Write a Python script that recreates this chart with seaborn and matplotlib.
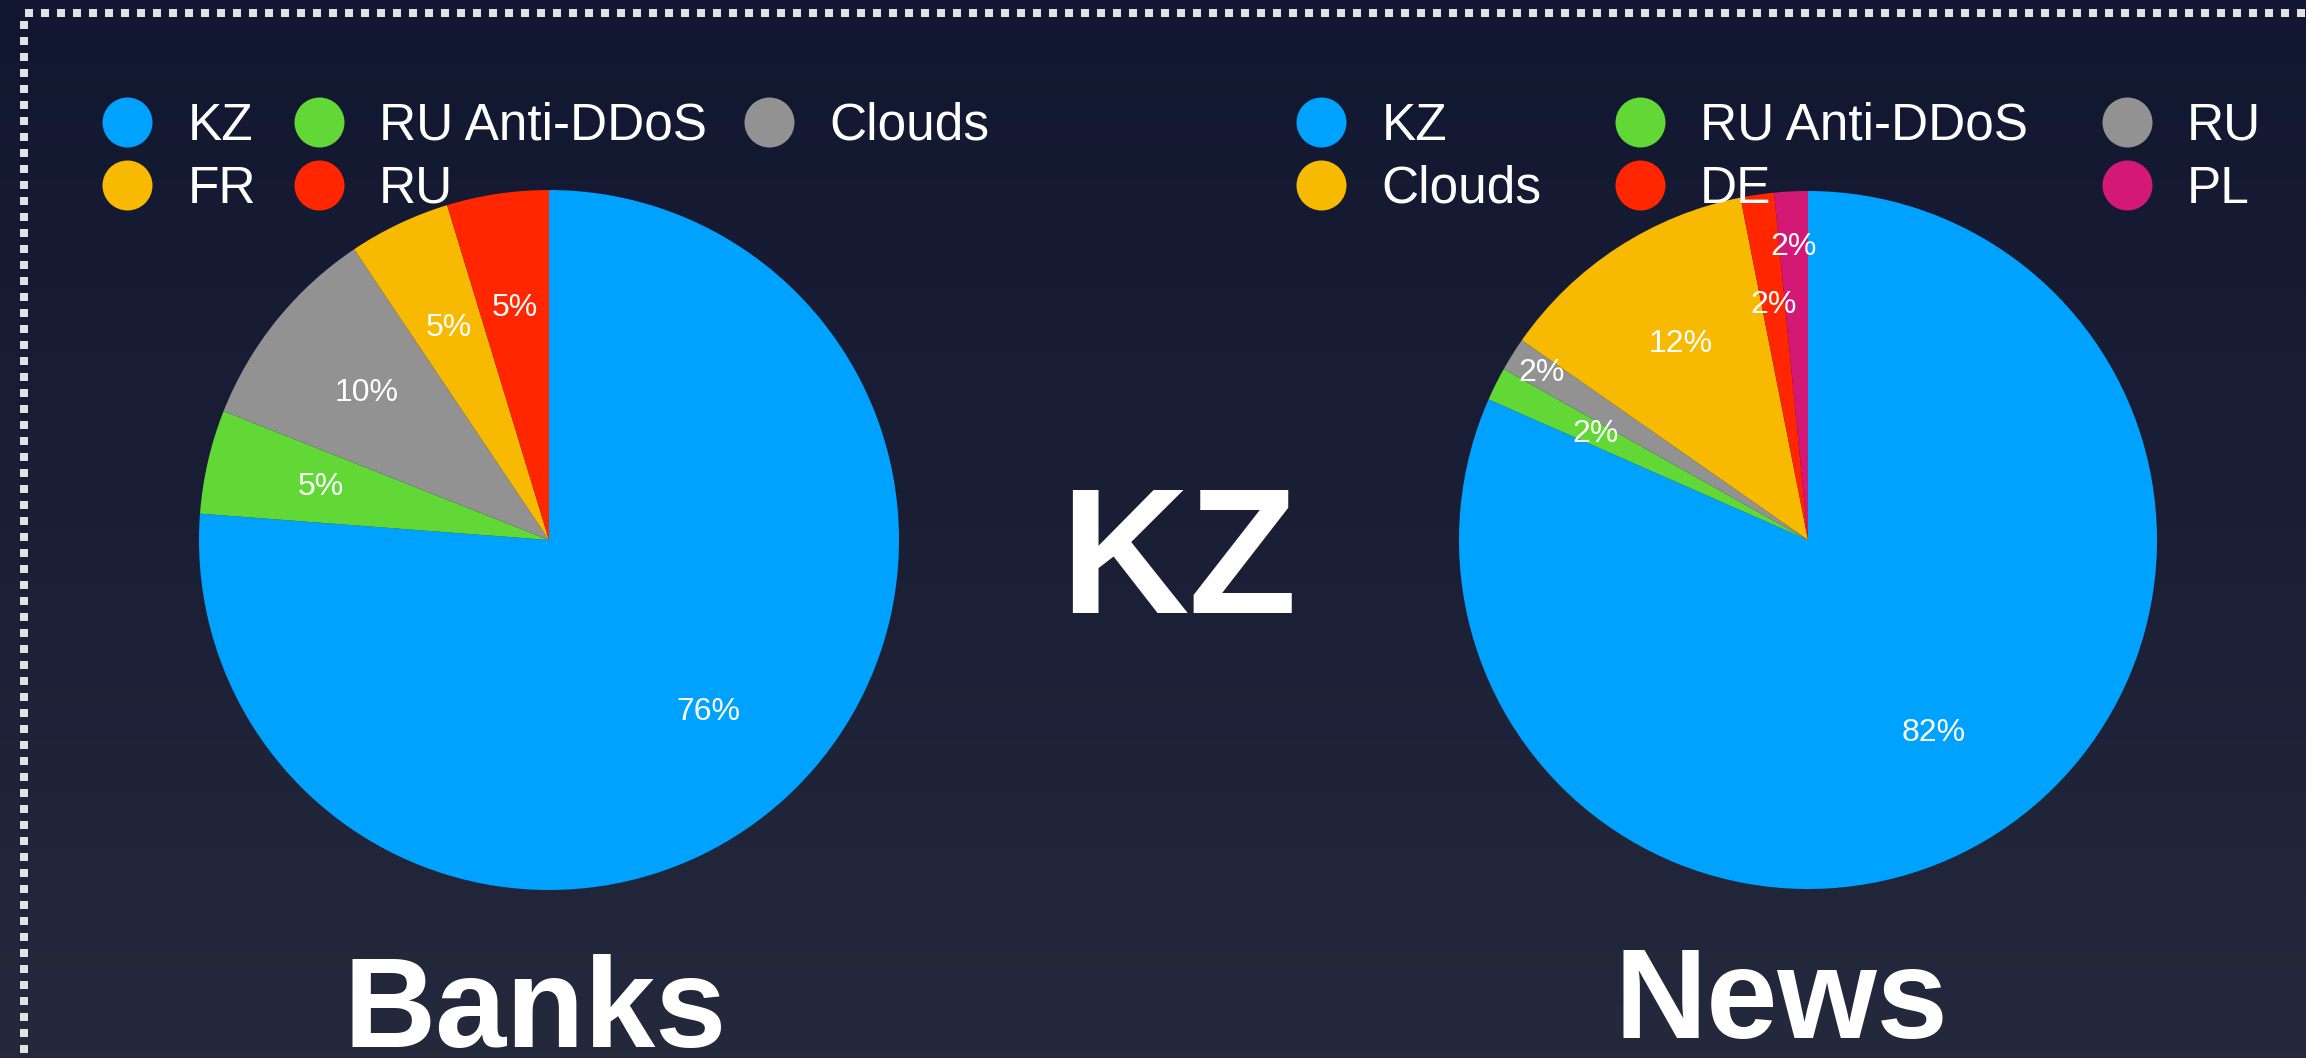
import numpy as np
import matplotlib
matplotlib.use("Agg")
import matplotlib.pyplot as plt
from matplotlib.lines import Line2D
from matplotlib.colors import LinearSegmentedColormap
import seaborn as sns

# ---- data -------------------------------------------------------------
banks_labels = ["KZ", "RU Anti-DDoS", "Clouds", "FR", "RU"]
banks_share = [76.2, 4.8, 9.6, 4.7, 4.7]
banks_colors = ["#00A2FF", "#61D836", "#929292", "#F8BA00", "#FF2600"]

news_labels = ["KZ", "RU Anti-DDoS", "RU", "Clouds", "DE", "PL"]
news_share = [81.6, 1.55, 1.55, 12.2, 1.55, 1.55]
news_colors = ["#00A2FF", "#61D836", "#929292", "#F8BA00", "#FF2600", "#D31876"]

country_title = "KZ"
banks_title = "Banks"
news_title = "News"

# ---- style ------------------------------------------------------------
sns.set_theme(style="dark")
plt.rcParams["font.family"] = ["Liberation Sans", "DejaVu Sans"]

W, H = 2306, 1058
fig = plt.figure(figsize=(W / 100, H / 100), dpi=100)


def fx(px):
    return px / W


def fy(py):
    return 1 - py / H


# background gradient
bg = fig.add_axes([0, 0, 1, 1], zorder=-10)
cmap = LinearSegmentedColormap.from_list("bg", ["#121731", "#1b1f36", "#24293c"])
grad = np.linspace(0, 1, 256).reshape(-1, 1)
bg.imshow(grad, aspect="auto", cmap=cmap, extent=[0, 1, 0, 1], origin="upper")
bg.axis("off")

# dotted frame along the top and left edges
dot_kw = dict(transform=fig.transFigure, color="#E2E2E2", lw=5.76,
              linestyle=(0, (1, 1)), dash_capstyle="butt", solid_capstyle="butt")
fig.add_artist(Line2D([fx(24.5), 1.0], [fy(13), fy(13)], **dot_kw))
fig.add_artist(Line2D([fx(24), fx(24)], [fy(21), 0.0], **dot_kw))


def draw_pie(cx, cy, r, shares, colors, label_radii):
    ax = fig.add_axes([fx(cx - r), fy(cy + r), (2 * r) / W, (2 * r) / H])
    wedges, _, autotexts = ax.pie(
        shares, colors=sns.color_palette(colors), startangle=90,
        counterclock=False, autopct="%.0f%%", pctdistance=0.67,
        wedgeprops=dict(linewidth=0),
        textprops=dict(color="white", fontsize=23))
    for t, rr in zip(autotexts, label_radii):
        x, y = t.get_position()
        t.set_position((x * rr / 0.67, y * rr / 0.67))
    ax.set_xlim(-1, 1)
    ax.set_ylim(-1, 1)
    ax.set_aspect("equal")
    ax.axis("off")
    return wedges


def row_major(items, ncol):
    n = len(items)
    nrow = int(np.ceil(n / ncol))
    out = []
    for c in range(ncol):
        for r in range(nrow):
            i = r * ncol + c
            if i < n:
                out.append(items[i])
    return out


def add_legend(labels, colors, x_left, y_top, colspacing):
    handles = [Line2D([], [], linestyle="none", marker="o", markersize=36,
                      markerfacecolor=c, markeredgewidth=0) for c in colors]
    h = row_major(handles, 3)
    l = row_major(labels, 3)
    leg = fig.legend(h, l, loc="upper left", bbox_to_anchor=(fx(x_left), fy(y_top)),
                     ncol=3, frameon=False, fontsize=37, labelcolor="white",
                     handlelength=1.0, handletextpad=0.67, columnspacing=colspacing,
                     labelspacing=0.27, borderpad=0, borderaxespad=0)
    return leg


draw_pie(549, 540, 350, banks_share, banks_colors, [0.67, 0.67, 0.67, 0.67, 0.67])
draw_pie(1808, 540, 349, news_share, news_colors, [0.66, 0.68, 0.9, 0.67, 0.68, 0.84])

add_legend(banks_labels, banks_colors, 101.5, 102, 0.72)
add_legend(news_labels, news_colors, 1295.5, 102, 1.42)

fig.text(fx(1179), fy(613), country_title, ha="center", va="baseline",
         fontsize=128, fontweight="bold", color="white")
fig.text(fx(535), fy(1047), banks_title, ha="center", va="baseline",
         fontsize=92, fontweight="bold", color="white")
fig.text(fx(1781), fy(1038), news_title, ha="center", va="baseline",
         fontsize=92, fontweight="bold", color="white")

fig.savefig("out.png", dpi=100)
